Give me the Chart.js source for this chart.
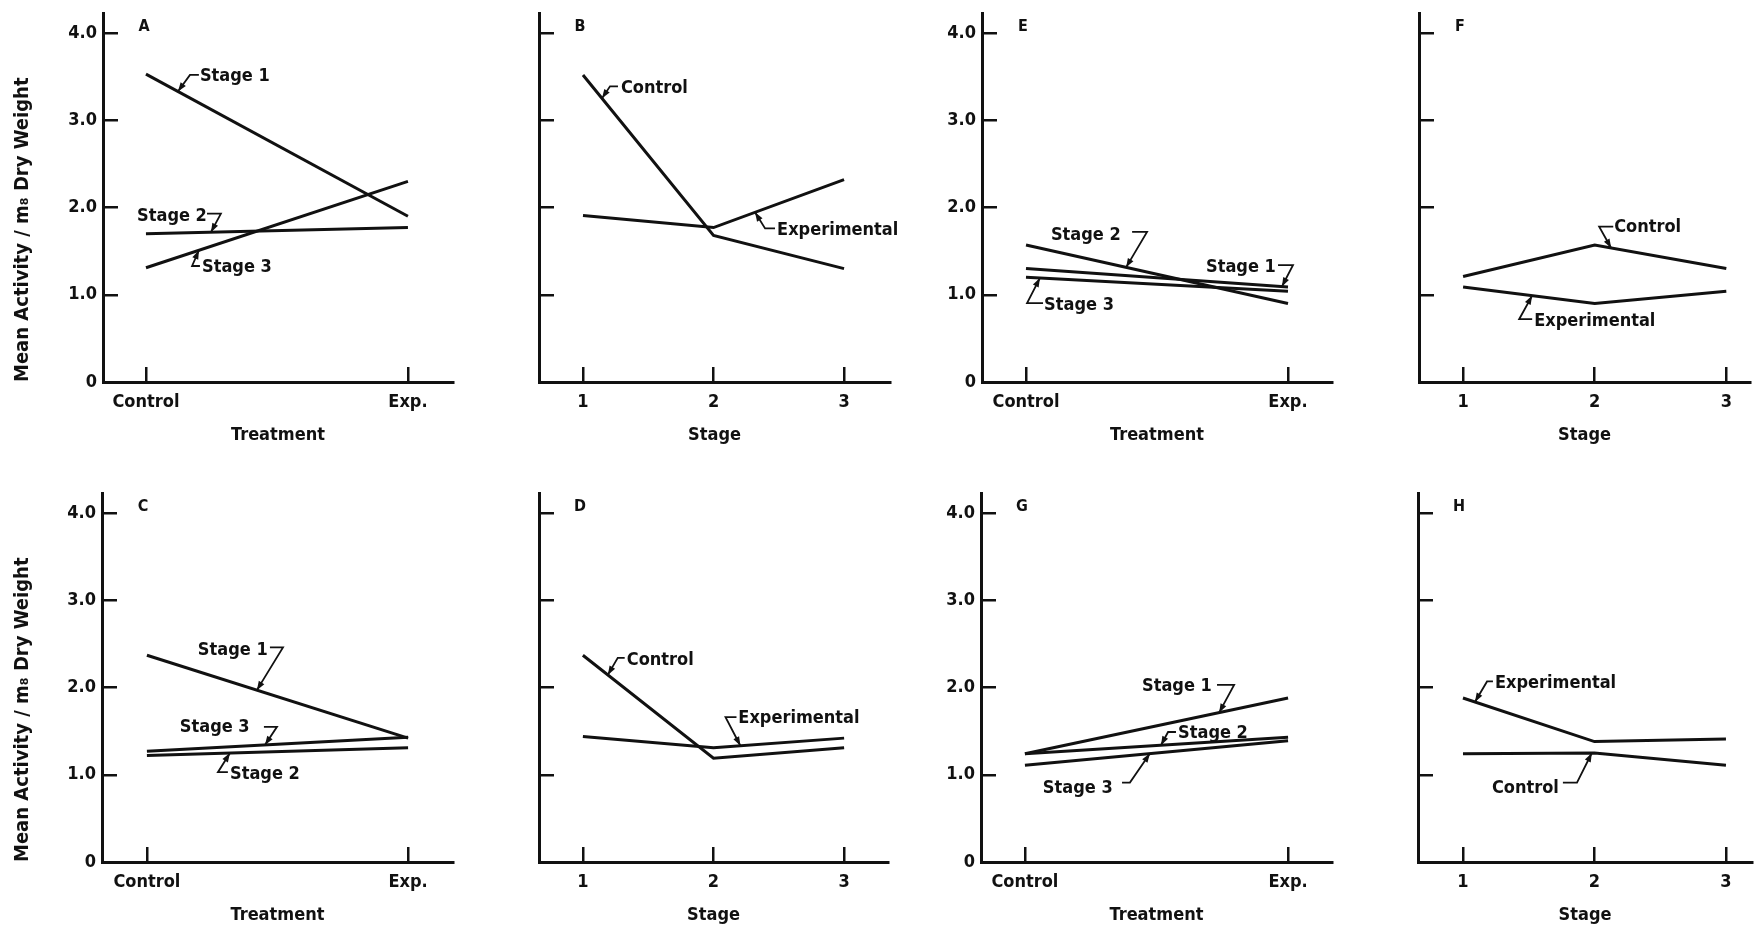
<!DOCTYPE html>
<html>
<head>
<meta charset="utf-8">
<script src="https://cdn.jsdelivr.net/npm/chart.js@4.4.1/dist/chart.umd.min.js"></script>
<style>
  html, body { margin: 0; padding: 0; background: #fff; }
  body { width: 1758px; height: 935px; position: relative; overflow: hidden; }
  .panel { position: absolute; }
</style>
</head>
<body>
<script>
// categories and tick labels
const treatments = ['Control', 'Exp.'];
const treatmentX = [0, 1];
const stages = ['1', '2', '3'];
const stageX = [1, 2, 3];
const yTicks = [0, 1, 2, 3, 4];
const yTickLabels = ['0', '1.0', '2.0', '3.0', '4.0'];
const yTitle = 'Mean Activity / m₈ Dry Weight';

// A: by treatment, one line per stage
const stage1A = [3.53, 1.90];
const stage2A = [1.70, 1.77];
const stage3A = [1.31, 2.30];
// B: by stage
const controlB = [3.52, 1.68, 1.30];
const expB = [1.91, 1.77, 2.32];
// C
const stage1C = [2.37, 1.42];
const stage2C = [1.22, 1.31];
const stage3C = [1.27, 1.43];
// D
const controlD = [2.37, 1.19, 1.31];
const expD = [1.44, 1.31, 1.42];
// E
const stage1E = [1.30, 1.09];
const stage2E = [1.57, 0.90];
const stage3E = [1.20, 1.04];
// F
const controlF = [1.21, 1.57, 1.30];
const expF = [1.09, 0.90, 1.04];
// G
const stage1G = [1.24, 1.88];
const stage2G = [1.24, 1.43];
const stage3G = [1.11, 1.39];
// H
const controlH = [1.24, 1.25, 1.11];
const expH = [1.88, 1.38, 1.41];

// line labels: text at [x, y], leader through path, arrow onto series `to[0]` at x = to[1]
const notesA = [
  { text: 'Stage 1', at: [0.206, 3.50], path: [[0.202, 3.52], [0.168, 3.52]], to: [0, 0.122] },
  { text: 'Stage 2', at: [-0.034, 1.90], path: [[0.233, 1.93], [0.286, 1.93]], to: [1, 0.248] },
  { text: 'Stage 3', at: [0.214, 1.32], path: [[0.206, 1.33], [0.176, 1.33]], to: [2, 0.202] }
];
const notesB = [
  { text: 'Control', at: [1.291, 3.37], path: [[1.268, 3.39], [1.207, 3.39]], to: [0, 1.146] },
  { text: 'Experimental', at: [2.487, 1.74], path: [[2.471, 1.76], [2.395, 1.76]], to: [1, 2.318] }
];
const notesC = [
  { text: 'Stage 1', at: [0.195, 2.43], path: [[0.471, 2.46], [0.521, 2.46]], to: [0, 0.421] },
  { text: 'Stage 3', at: [0.126, 1.54], path: [[0.448, 1.55], [0.498, 1.55]], to: [2, 0.452] },
  { text: 'Stage 2', at: [0.318, 1.00], path: [[0.310, 1.03], [0.272, 1.03]], to: [1, 0.318] }
];
const notesD = [
  { text: 'Control', at: [1.336, 2.31], path: [[1.320, 2.34], [1.267, 2.34]], to: [0, 1.191] },
  { text: 'Experimental', at: [2.190, 1.65], path: [[2.176, 1.66], [2.092, 1.66]], to: [1, 2.206] }
];
const notesE = [
  { text: 'Stage 2', at: [0.095, 1.68], path: [[0.405, 1.72], [0.462, 1.72]], to: [1, 0.382] },
  { text: 'Stage 1', at: [0.687, 1.31], path: [[0.962, 1.34], [1.019, 1.34]], to: [0, 0.977] },
  { text: 'Stage 3', at: [0.069, 0.88], path: [[0.065, 0.905], [0.004, 0.905]], to: [2, 0.053] }
];
const notesF = [
  { text: 'Control', at: [2.148, 1.77], path: [[2.141, 1.78], [2.034, 1.78]], to: [0, 2.125] },
  { text: 'Experimental', at: [1.540, 0.69], path: [[1.525, 0.72], [1.426, 0.72]], to: [1, 1.525] }
];
const notesG = [
  { text: 'Stage 1', at: [0.445, 2.01], path: [[0.730, 2.03], [0.795, 2.03]], to: [0, 0.738] },
  { text: 'Stage 2', at: [0.582, 1.48], path: [[0.574, 1.49], [0.544, 1.49]], to: [1, 0.517] },
  { text: 'Stage 3', at: [0.068, 0.85], path: [[0.369, 0.91], [0.399, 0.91]], to: [2, 0.475] }
];
const notesH = [
  { text: 'Experimental', at: [1.243, 2.05], path: [[1.228, 2.07], [1.183, 2.07]], to: [1, 1.091] },
  { text: 'Control', at: [1.220, 0.85], path: [[1.760, 0.91], [1.867, 0.91]], to: [0, 1.980] }
];

const stageNames = ['Stage 1', 'Stage 2', 'Stage 3'];
const groupNames = ['Control', 'Experimental'];

const panels = [
  { id: 'A', kind: 'treatment', names: stageNames, series: [stage1A, stage2A, stage3A], notes: notesA, yLabels: true, yTitle: true },
  { id: 'B', kind: 'stage', names: groupNames, series: [controlB, expB], notes: notesB },
  { id: 'E', kind: 'treatment', names: stageNames, series: [stage1E, stage2E, stage3E], notes: notesE, yLabels: true },
  { id: 'F', kind: 'stage', names: groupNames, series: [controlF, expF], notes: notesF },
  { id: 'C', kind: 'treatment', names: stageNames, series: [stage1C, stage2C, stage3C], notes: notesC, yLabels: true, yTitle: true },
  { id: 'D', kind: 'stage', names: groupNames, series: [controlD, expD], notes: notesD },
  { id: 'G', kind: 'treatment', names: stageNames, series: [stage1G, stage2G, stage3G], notes: notesG, yLabels: true },
  { id: 'H', kind: 'stage', names: groupNames, series: [controlH, expH], notes: notesH }
];

// where each panel's axes sit on the page
const layout = {
  A: { x: 103, right: 453, top: 13, bottom: 382, xMin: -0.164, xMax: 1.172 },
  B: { x: 539, right: 890, top: 13, bottom: 382, xMin: 0.663, xMax: 3.352 },
  E: { x: 982, right: 1332, top: 13, bottom: 382, xMin: -0.168, xMax: 1.168 },
  F: { x: 1419, right: 1750, top: 13, bottom: 382, xMin: 0.665, xMax: 3.18 },
  C: { x: 102, right: 453, top: 493, bottom: 862, xMin: -0.172, xMax: 1.172 },
  D: { x: 539, right: 888, top: 493, bottom: 862, xMin: 0.664, xMax: 3.336 },
  G: { x: 981, right: 1332, top: 493, bottom: 862, xMin: -0.167, xMax: 1.167 },
  H: { x: 1418, right: 1752, top: 493, bottom: 862, xMin: 0.658, xMax: 3.198 }
};

const ink = '#111';
const fontFamily = "'DejaVu Sans Condensed', 'Liberation Sans Narrow', 'DejaVu Sans', sans-serif";
Chart.defaults.font.family = fontFamily;
Chart.defaults.font.weight = 'bold';
Chart.defaults.font.size = 18;
Chart.defaults.color = ink;

function notesPlugin(p) {
  return {
    id: 'notes' + p.id,
    afterDraw(chart) {
      const { ctx, chartArea, scales: { x, y } } = chart;
      ctx.save();
      ctx.fillStyle = ink;
      ctx.strokeStyle = ink;
      ctx.textBaseline = 'middle';
      ctx.textAlign = 'center';
      ctx.font = 'bold 16px ' + fontFamily;
      ctx.fillText(p.id, chartArea.left + 41, chartArea.top + 14);

      ctx.font = 'bold 18px ' + fontFamily;
      ctx.textAlign = 'left';
      p.notes.forEach(n => {
        ctx.fillText(n.text, x.getPixelForValue(n.at[0]), y.getPixelForValue(n.at[1]));

        const pts = n.path.map(q => [x.getPixelForValue(q[0]), y.getPixelForValue(q[1])]);
        const ds = chart.data.datasets[n.to[0]].data;
        const tx = n.to[1];
        let k = 0;
        while (k < ds.length - 2 && tx > ds[k + 1].x) k++;
        const a = ds[k], b = ds[k + 1];
        const ty = a.y + (b.y - a.y) * (tx - a.x) / (b.x - a.x);
        const end = [x.getPixelForValue(tx), y.getPixelForValue(ty)];
        pts.push(end);

        ctx.lineWidth = 1.8;
        ctx.beginPath();
        pts.forEach((q, i) => i ? ctx.lineTo(q[0], q[1]) : ctx.moveTo(q[0], q[1]));
        ctx.stroke();

        const prev = pts[pts.length - 2];
        const ang = Math.atan2(end[1] - prev[1], end[0] - prev[0]);
        const L = 9, W = 3.2;
        ctx.beginPath();
        ctx.moveTo(end[0], end[1]);
        ctx.lineTo(end[0] - L * Math.cos(ang) + W * Math.sin(ang), end[1] - L * Math.sin(ang) - W * Math.cos(ang));
        ctx.lineTo(end[0] - L * Math.cos(ang) - W * Math.sin(ang), end[1] - L * Math.sin(ang) + W * Math.cos(ang));
        ctx.closePath();
        ctx.fill();
      });
      ctx.restore();
    }
  };
}

function makePanel(p) {
  const g = layout[p.id];
  const wy = p.yTitle ? g.x : (p.yLabels ? 80 : 30);
  const padTop = 4, padRight = 14, hx = 72;
  const w = wy + (g.right - g.x) + padRight;
  const h = padTop + (g.bottom - g.top) + hx;

  const wrap = document.createElement('div');
  wrap.className = 'panel';
  wrap.style.left = (g.x - wy) + 'px';
  wrap.style.top = (g.top - padTop) + 'px';
  const canvas = document.createElement('canvas');
  canvas.width = w;
  canvas.height = h;
  wrap.appendChild(canvas);
  document.body.appendChild(wrap);

  const xs = p.kind === 'treatment' ? treatmentX : stageX;
  const xLabels = p.kind === 'treatment' ? treatments : stages;

  new Chart(canvas, {
    type: 'line',
    data: {
      datasets: p.series.map((vals, i) => ({
        label: p.names[i],
        data: vals.map((v, j) => ({ x: xs[j], y: v })),
        borderColor: ink,
        borderWidth: 3,
        pointRadius: 0,
        tension: 0,
        fill: false
      }))
    },
    options: {
      responsive: false,
      animation: false,
      layout: { padding: { top: padTop, right: padRight, left: 0, bottom: 0 } },
      plugins: { legend: { display: false }, tooltip: { enabled: false } },
      scales: {
        x: {
          type: 'linear',
          min: g.xMin,
          max: g.xMax,
          afterBuildTicks: s => { s.ticks = xs.map(v => ({ value: v })); },
          afterFit: s => { s.height = hx; s.paddingLeft = 0; s.paddingRight = 0; },
          ticks: { callback: (v, i) => xLabels[i], padding: 25, maxRotation: 0, autoSkip: false },
          grid: { drawOnChartArea: false, drawTicks: true, tickLength: -15, color: ink, lineWidth: 2.5 },
          border: { display: true, color: ink, width: 3 },
          title: {
            display: true,
            text: p.kind === 'treatment' ? 'Treatment' : 'Stage',
            padding: { top: 0, bottom: 8 }
          }
        },
        y: {
          min: 0,
          max: 4.23,
          afterBuildTicks: s => { s.ticks = yTicks.map(v => ({ value: v })); },
          afterFit: s => { s.width = wy; s.paddingTop = 0; s.paddingBottom = 0; },
          ticks: { display: !!p.yLabels, callback: (v, i) => yTickLabels[i], padding: 21 },
          grid: { drawOnChartArea: false, drawTicks: true, tickLength: -15, color: ink, lineWidth: 2.5 },
          border: { display: true, color: ink, width: 3 },
          title: {
            display: !!p.yTitle,
            text: yTitle,
            align: 'start',
            font: { size: 20 },
            padding: { top: 11, bottom: 0 }
          }
        }
      }
    },
    plugins: [notesPlugin(p)]
  });
}

panels.forEach(makePanel);
</script>
</body>
</html>
